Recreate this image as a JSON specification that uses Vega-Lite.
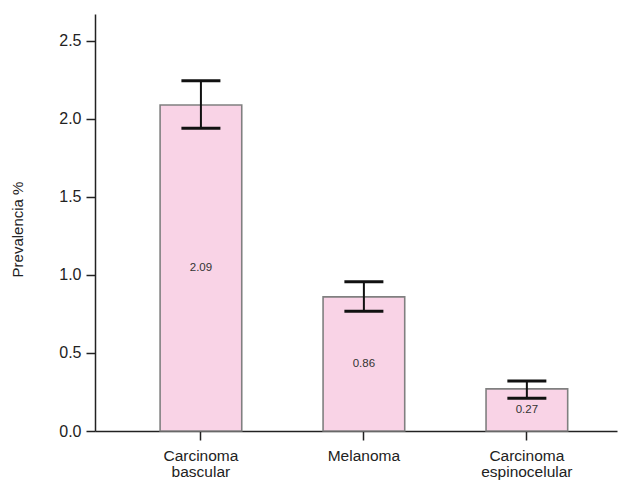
{
  "$schema": "https://vega.github.io/schema/vega-lite/v6.json",
  "width": 522,
  "height": 417,
  "autosize": {"type": "none"},
  "padding": {"left": 95, "top": 14, "right": 1, "bottom": 51},
  "background": "white",
  "config": {
    "view": {"stroke": null},
    "font": "Liberation Sans",
    "axis": {"grid": false, "domainColor": "#222", "domainWidth": 1.5, "tickColor": "#222", "tickWidth": 1.5, "tickSize": 9, "labelColor": "#222", "titleColor": "#222", "labelFont": "Liberation Sans", "titleFont": "Liberation Sans", "titleFontWeight": "normal"}
  },
  "data": {
    "values": [
      {"tipo": "Carcinoma bascular", "prev": 2.09, "lo": 1.94, "hi": 2.245},
      {"tipo": "Melanoma", "prev": 0.86, "lo": 0.768, "hi": 0.957},
      {"tipo": "Carcinoma espinocelular", "prev": 0.27, "lo": 0.21, "hi": 0.32}
    ]
  },
  "encoding": {
    "x": {
      "field": "tipo", "type": "nominal", "sort": null,
      "scale": {"paddingInner": 0.499, "paddingOuter": 0.351, "align": 0.569},
      "axis": {"title": null, "labelAngle": 0, "labelFontSize": 15.5, "labelPadding": 8, "labelLineHeight": 16, "labelExpr": "split(datum.label, ' ')"}
    }
  },
  "layer": [
    {
      "mark": {"type": "bar", "fill": "#f9d3e6", "stroke": "#808080", "strokeWidth": 1.6},
      "encoding": {
        "y": {
          "field": "prev", "type": "quantitative",
          "scale": {"domain": [0, 2.673], "nice": false, "zero": true},
          "axis": {"title": "Prevalencia %", "titleFontSize": 15, "titlePadding": 33, "titleY": 215, "labelFontSize": 16, "labelPadding": 5, "values": [0, 0.5, 1, 1.5, 2, 2.5], "format": ".1f"}
        }
      }
    },
    {
      "mark": {"type": "rule", "stroke": "#111", "strokeWidth": 2},
      "encoding": {
        "y": {"field": "lo", "type": "quantitative"},
        "y2": {"field": "hi"}
      }
    },
    {
      "mark": {"type": "tick", "stroke": "#111", "strokeWidth": 2, "orient": "horizontal", "size": 37, "opacity": 1},
      "encoding": {"y": {"field": "lo", "type": "quantitative"}}
    },
    {
      "mark": {"type": "tick", "stroke": "#111", "strokeWidth": 2, "orient": "horizontal", "size": 37, "opacity": 1},
      "encoding": {"y": {"field": "hi", "type": "quantitative"}}
    },
    {
      "transform": [{"calculate": "datum.prev / 2", "as": "mid"}],
      "mark": {"type": "text", "fontSize": 11.5, "color": "#333", "baseline": "middle"},
      "encoding": {
        "y": {"field": "mid", "type": "quantitative"},
        "text": {"field": "prev", "type": "quantitative", "format": ".2f"}
      }
    }
  ]
}
